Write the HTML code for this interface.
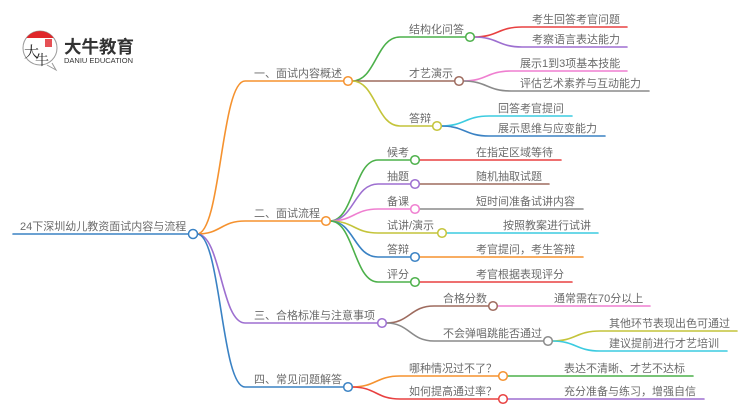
<!DOCTYPE html>
<html><head><meta charset="utf-8"><style>
html,body{margin:0;padding:0;background:#fff;width:750px;height:410px;overflow:hidden}
svg{display:block}
text{font-family:"Liberation Sans","Noto Sans CJK SC",sans-serif;font-size:11px;fill:#6b6b6b}
.l{fill:none;stroke-width:1.6;stroke-linecap:round}
.c{fill:#fff;stroke-width:1.5}
</style></head><body>
<svg width="750" height="410" viewBox="0 0 750 410" xmlns="http://www.w3.org/2000/svg">
<!-- logo -->
<g>
<path d="M52,63 L56,70 L47,65" fill="#fff" stroke="#999" stroke-width="1"/>
<circle cx="40" cy="48" r="17" fill="#fff" stroke="#999" stroke-width="1"/>
<path d="M26.3,38 A17,17 0 0 1 53.7,38 Z" fill="#e0262a"/>
<text x="24" y="57" style="font-size:15px;fill:#222;font-family:'Noto Serif CJK SC',serif">大</text>
<text x="35" y="65" style="font-size:14px;fill:#222;font-family:'Noto Serif CJK SC',serif">牛</text>
<rect x="45" y="39" width="7" height="8" fill="#e0262a" opacity="0.8"/>
<text x="64" y="53" style="font-size:17.5px;font-weight:bold;fill:#333;font-family:'Noto Sans CJK SC',sans-serif">大牛教育</text>
<text x="64" y="63" textLength="69" lengthAdjust="spacingAndGlyphs" style="font-size:7px;fill:#333">DANIU EDUCATION</text>
</g>

<!-- root -->
<path class="l" stroke="#3a82c4" d="M13,234 L189,234"/>
<text x="20" y="230">24下深圳幼儿教资面试内容与流程</text>

<!-- root -> branches -->
<path class="l" stroke="#f5922f" d="M197,234 C221,234 221,81 245,81 L344,81"/>
<path class="l" stroke="#f5922f" d="M197,234 C221,234 221,221 245,221 L322,221"/>
<path class="l" stroke="#9d6fd0" d="M197,234 C221,234 221,323 245,323 L378,323"/>
<path class="l" stroke="#3a82c4" d="M197,234 C221,234 221,387 245,387 L344,387"/>
<text x="254" y="77">一、面试内容概述</text>
<text x="254" y="217">二、面试流程</text>
<text x="254" y="319">三、合格标准与注意事项</text>
<text x="254" y="383">四、常见问题解答</text>

<!-- B1 children -->
<path class="l" stroke="#4cb04a" d="M352,81 C376,81 376,37 400,37 L466,37"/>
<path class="l" stroke="#9e6b5e" d="M352,81 L455,81"/>
<path class="l" stroke="#c4c43a" d="M352,81 C376,81 376,126 400,126 L433,126"/>
<text x="409" y="33">结构化问答</text>
<text x="409" y="77">才艺演示</text>
<text x="409" y="122">答辩</text>

<!-- B1 leaves -->
<path class="l" stroke="#e84040" d="M474,37 C498,37 498,27 522,27 L627,27"/>
<path class="l" stroke="#9d6fd0" d="M474,37 C498,37 498,47 522,47 L627,47"/>
<path class="l" stroke="#ef7fd0" d="M463,81 C487,81 487,71 511,71 L627,71"/>
<path class="l" stroke="#8a8a8a" d="M463,81 C487,81 487,91 511,91 L649,91"/>
<path class="l" stroke="#3ccbe0" d="M441,126 C465,126 465,116 489,116 L572,116"/>
<path class="l" stroke="#3a82c4" d="M441,126 C465,126 465,136 489,136 L605,136"/>
<text x="532" y="23">考生回答考官问题</text>
<text x="532" y="43">考察语言表达能力</text>
<text x="520" y="67">展示1到3项基本技能</text>
<text x="520" y="87">评估艺术素养与互动能力</text>
<text x="498" y="112">回答考官提问</text>
<text x="498" y="132">展示思维与应变能力</text>

<!-- B2 children -->
<path class="l" stroke="#4cb04a" d="M330,221 C354,221 354,160 378,160 L411,160"/>
<path class="l" stroke="#9d6fd0" d="M330,221 C354,221 354,184 378,184 L411,184"/>
<path class="l" stroke="#ef7fd0" d="M330,221 C354,221 354,209 378,209 L411,209"/>
<path class="l" stroke="#c4c43a" d="M330,221 C354,221 354,233 378,233 L438,233"/>
<path class="l" stroke="#3a82c4" d="M330,221 C354,221 354,257 378,257 L411,257"/>
<path class="l" stroke="#4cb04a" d="M330,221 C354,221 354,282 378,282 L411,282"/>
<text x="387" y="156">候考</text>
<text x="387" y="180">抽题</text>
<text x="387" y="205">备课</text>
<text x="387" y="229">试讲/演示</text>
<text x="387" y="253">答辩</text>
<text x="387" y="278">评分</text>

<!-- B2 leaves -->
<path class="l" stroke="#e84040" d="M419,160 L561,160"/>
<path class="l" stroke="#9e6b5e" d="M419,184 L549,184"/>
<path class="l" stroke="#8a8a8a" d="M419,209 L583,209"/>
<path class="l" stroke="#3ccbe0" d="M446,233 L598,233"/>
<path class="l" stroke="#f5922f" d="M419,257 L583,257"/>
<path class="l" stroke="#e84040" d="M419,282 L572,282"/>
<text x="476" y="156">在指定区域等待</text>
<text x="476" y="180">随机抽取试题</text>
<text x="476" y="205">短时间准备试讲内容</text>
<text x="503" y="229">按照教案进行试讲</text>
<text x="476" y="253">考官提问，考生答辩</text>
<text x="476" y="278">考官根据表现评分</text>

<!-- B3 children -->
<path class="l" stroke="#9e6b5e" d="M386,323 C410,323 410,306 434,306 L489,306"/>
<path class="l" stroke="#8a8a8a" d="M386,323 C410,323 410,341 434,341 L544,341"/>
<text x="443" y="302">合格分数</text>
<text x="443" y="337">不会弹唱跳能否通过</text>
<path class="l" stroke="#ef7fd0" d="M497,306 L650,306"/>
<text x="554" y="302">通常需在70分以上</text>
<path class="l" stroke="#c4c43a" d="M552,341 C576,341 576,331 600,331 L737,331"/>
<path class="l" stroke="#3ccbe0" d="M552,341 C576,341 576,351 600,351 L727,351"/>
<text x="609" y="327">其他环节表现出色可通过</text>
<text x="609" y="347">建议提前进行才艺培训</text>

<!-- B4 children -->
<path class="l" stroke="#f5922f" d="M352,387 C376,387 376,376 400,376 L499,376"/>
<path class="l" stroke="#e84040" d="M352,387 C376,387 376,399 400,399 L499,399"/>
<text x="409" y="372">哪种情况过不了？</text>
<text x="409" y="395">如何提高通过率？</text>
<path class="l" stroke="#4cb04a" d="M507,376 L693,376"/>
<path class="l" stroke="#9d6fd0" d="M507,399 L704,399"/>
<text x="564" y="372">表达不清晰、才艺不达标</text>
<text x="564" y="395">充分准备与练习，增强自信</text>

<!-- circles -->
<circle class="c" cx="193" cy="234" r="4.5" stroke="#3a82c4"/>
<circle class="c" cx="348" cy="81" r="4.3" stroke="#f5922f"/>
<circle class="c" cx="326" cy="221" r="4.3" stroke="#f5922f"/>
<circle class="c" cx="382" cy="323" r="4.3" stroke="#9d6fd0"/>
<circle class="c" cx="348" cy="387" r="4.3" stroke="#3a82c4"/>
<circle class="c" cx="470" cy="37" r="4.3" stroke="#4cb04a"/>
<circle class="c" cx="459" cy="81" r="4.3" stroke="#9e6b5e"/>
<circle class="c" cx="437" cy="126" r="4.3" stroke="#c4c43a"/>
<circle class="c" cx="415" cy="160" r="4.3" stroke="#4cb04a"/>
<circle class="c" cx="415" cy="184" r="4.3" stroke="#9d6fd0"/>
<circle class="c" cx="415" cy="209" r="4.3" stroke="#ef7fd0"/>
<circle class="c" cx="442" cy="233" r="4.3" stroke="#c4c43a"/>
<circle class="c" cx="415" cy="257" r="4.3" stroke="#3a82c4"/>
<circle class="c" cx="415" cy="282" r="4.3" stroke="#4cb04a"/>
<circle class="c" cx="493" cy="306" r="4.3" stroke="#9e6b5e"/>
<circle class="c" cx="548" cy="341" r="4.3" stroke="#8a8a8a"/>
<circle class="c" cx="503" cy="376" r="4.3" stroke="#f5922f"/>
<circle class="c" cx="503" cy="399" r="4.3" stroke="#e84040"/>
</svg>
</body></html>
